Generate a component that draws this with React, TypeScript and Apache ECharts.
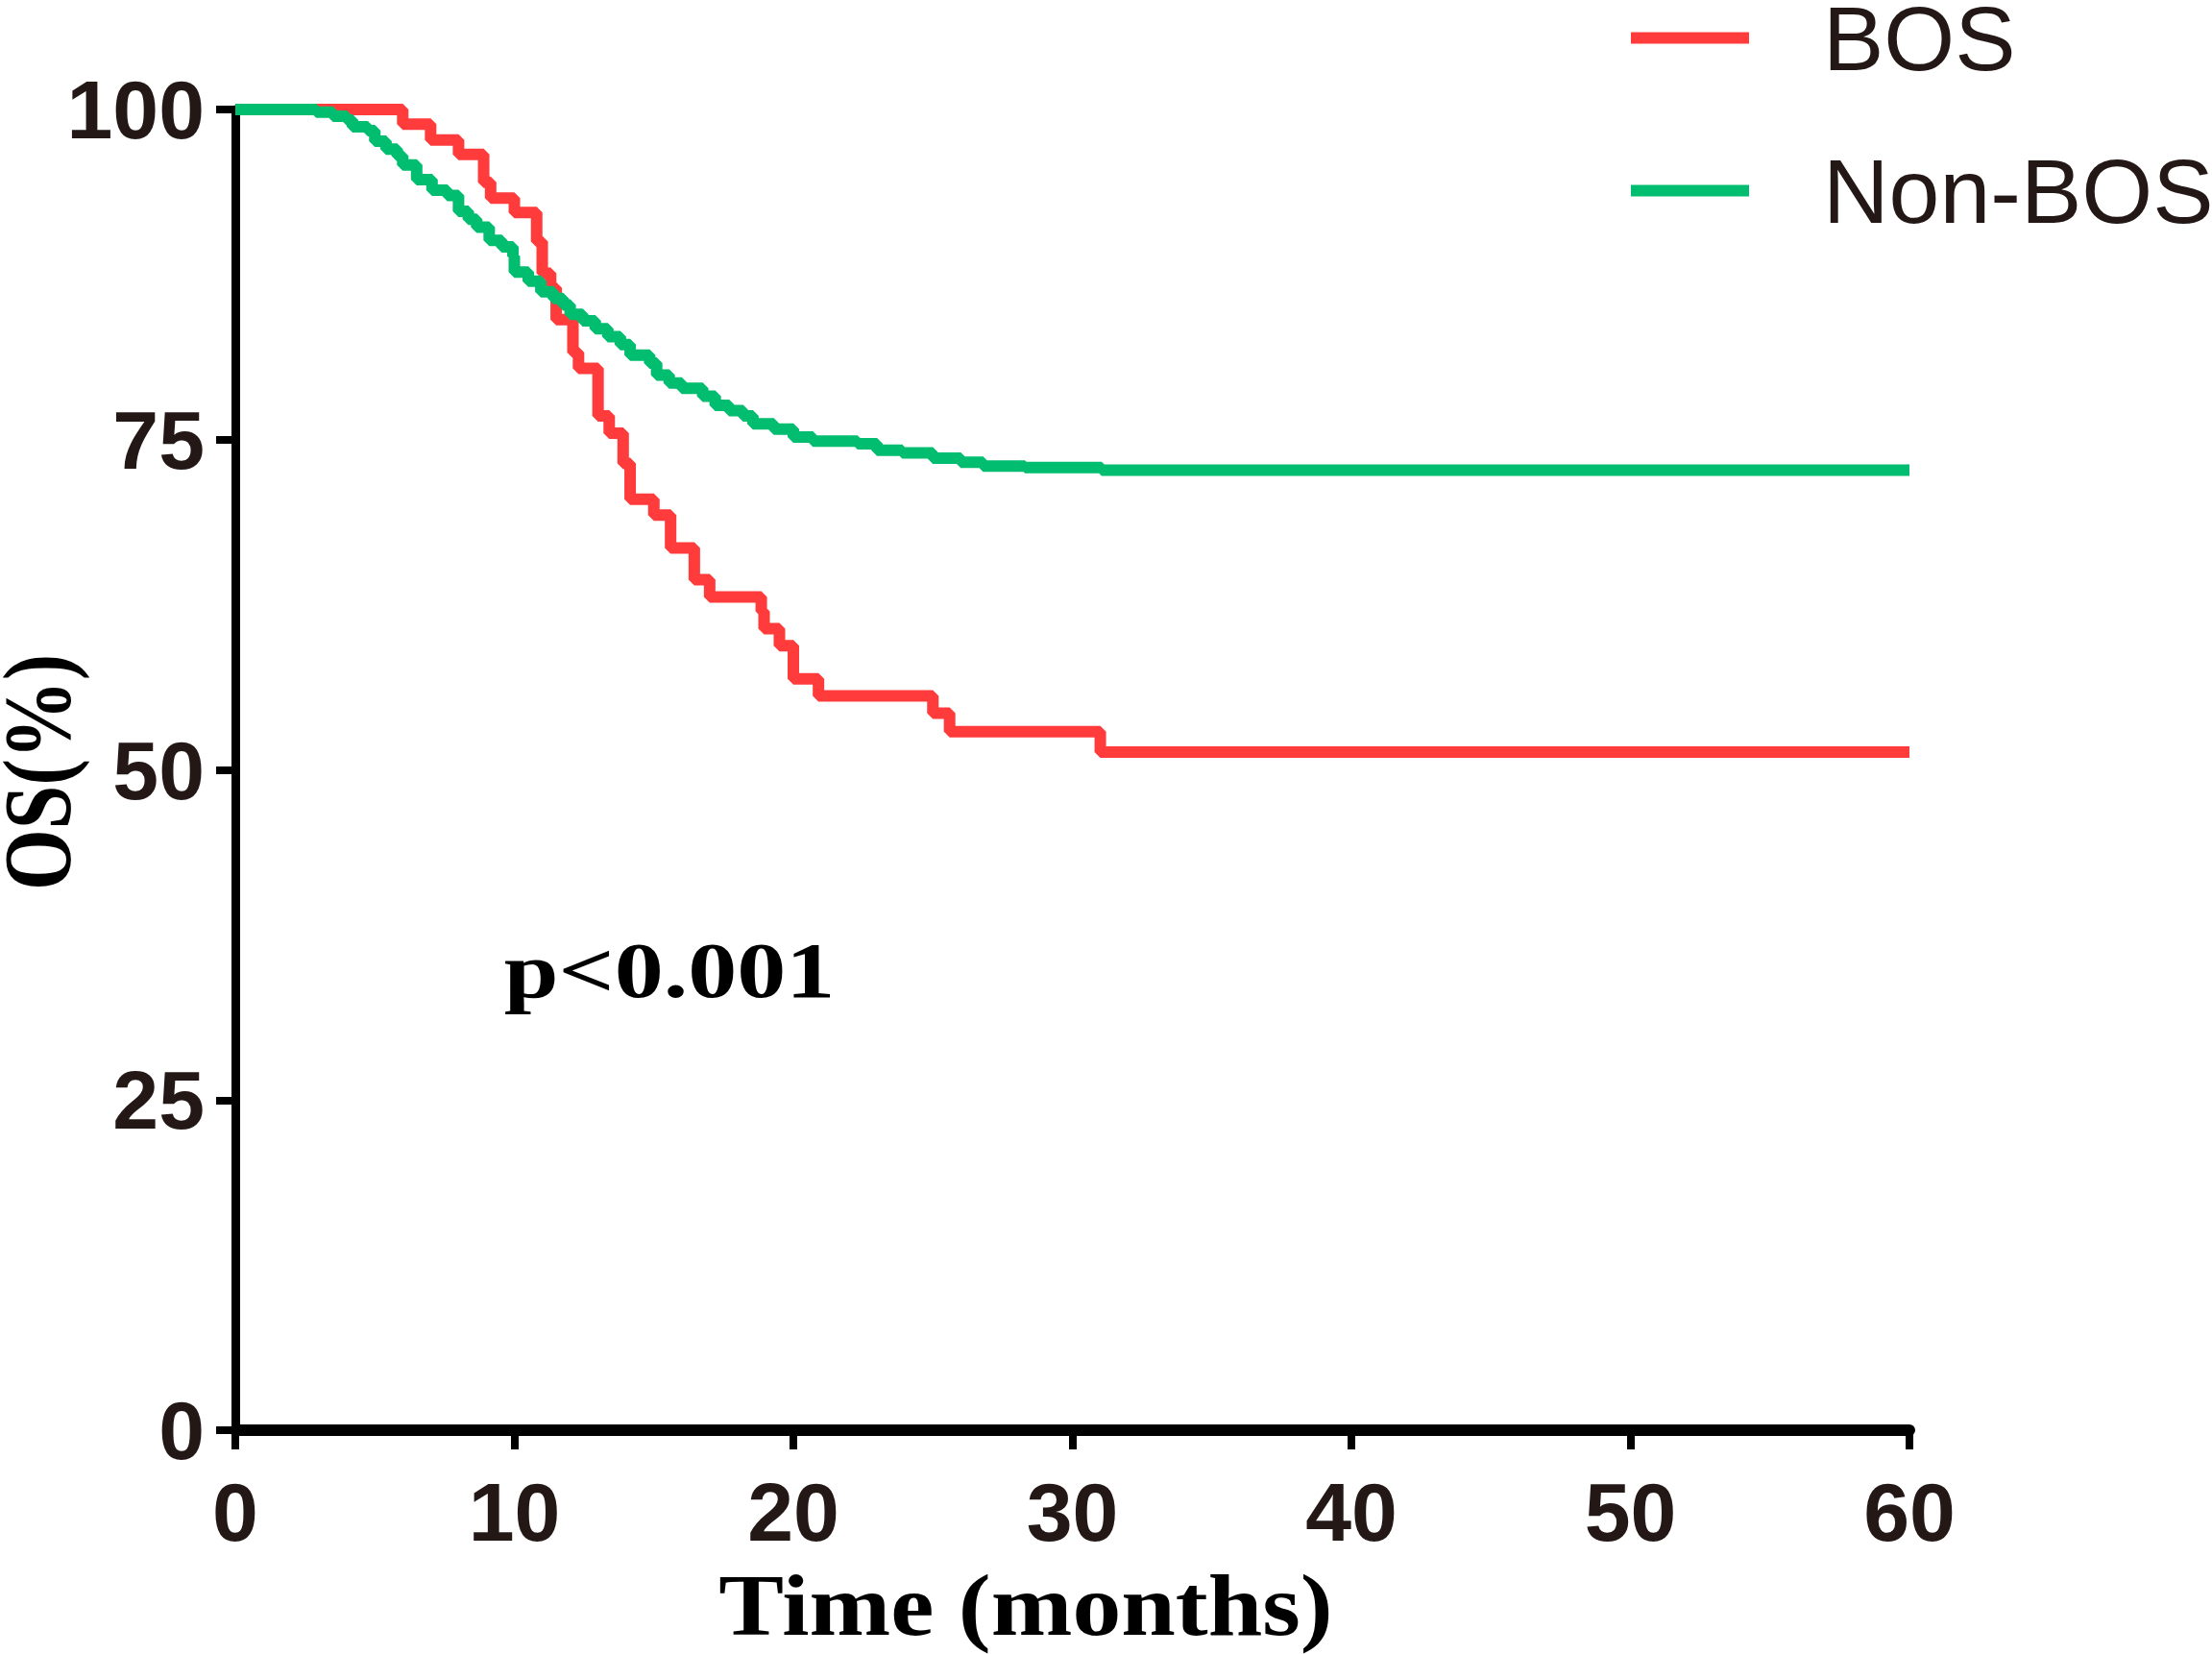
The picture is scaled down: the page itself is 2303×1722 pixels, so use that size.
import React, { useEffect, useRef } from "react";
import * as echarts from "echarts";

// Kaplan–Meier curves (time in months, OS in %)
const bosTimes = [0, 6.0, 7.0, 8.0, 8.9, 9.15, 10.0, 10.8, 11.0, 11.3, 11.5, 12.1, 12.3, 13.0, 13.4, 13.9, 14.15, 15.0, 15.6, 16.45, 17.0, 18.85, 18.95, 19.5, 20.0, 20.9, 25.0, 25.6, 31.0, 60];
const bosValues = [100, 98.9, 97.7, 96.6, 94.5, 93.3, 92.2, 90.0, 87.6, 86.5, 84.1, 81.6, 80.4, 76.8, 75.5, 73.2, 70.5, 69.3, 66.8, 64.4, 63.1, 62.0, 60.7, 59.4, 56.9, 55.6, 54.3, 52.9, 51.35, 51.35];

const nonBosTimes = [0, 2.9, 3.5, 4.0, 4.2, 4.75, 5.0, 5.4, 5.8, 6.0, 6.5, 7.05, 7.6, 8.0, 8.35, 8.65, 9.1, 9.55, 9.95, 10.0, 10.5, 10.95, 11.4, 11.75, 12.0, 12.45, 12.9, 13.35, 13.8, 14.15, 14.85, 15.1, 15.55, 16.0, 16.75, 17.2, 17.7, 18.2, 18.55, 19.3, 20.0, 20.7, 22.3, 23.0, 23.9, 25.0, 26.0, 26.8, 28.3, 31.05, 60];
const nonBosValues = [100, 99.8, 99.5, 99.2, 98.7, 98.4, 97.6, 97.0, 96.5, 95.8, 94.7, 93.9, 93.5, 92.3, 91.7, 91.1, 90.1, 89.6, 88.9, 87.7, 87.0, 86.2, 85.7, 85.2, 84.5, 84.0, 83.4, 82.8, 82.2, 81.4, 80.8, 79.9, 79.3, 78.9, 78.3, 77.6, 77.2, 76.8, 76.2, 75.8, 75.2, 74.9, 74.7, 74.2, 74.0, 73.6, 73.3, 73.0, 72.9, 72.7, 72.7];

const seriesNames = ["BOS", "Non-BOS"];
const xTickValues = [0, 10, 20, 30, 40, 50, 60];
const yTickValues = [0, 25, 50, 75, 100];
const xTitle = "Time (months)";
const yTitle = "OS(%)";
const pText = "p<0.001";

const RED = "#FF3B3B";
const GREEN = "#00BD6F";
const TICK_TEXT = "#231815";

function pairs(xs: number[], ys: number[]) {
  return xs.map((x, i) => [x, ys[i]]);
}

export default function App() {
  const ref = useRef<HTMLDivElement>(null);

  useEffect(() => {
    if (!ref.current) return;
    const chart = echarts.init(ref.current, null, { renderer: "svg" });
    const axisLabelBase = {
      fontSize: 86,
      fontWeight: "bold" as const,
      fontFamily: "Liberation Sans, Arial, sans-serif",
      color: TICK_TEXT,
    };
    chart.setOption({
      animation: false,
      backgroundColor: "#ffffff",
      grid: { left: 245, top: 114, right: 315, bottom: 233 },
      xAxis: {
        type: "value",
        min: xTickValues[0],
        max: xTickValues[xTickValues.length - 1],
        interval: 10,
        axisLine: { show: true, onZero: false, lineStyle: { color: "#000", width: 12 } },
        axisTick: { show: true, length: 20, lineStyle: { color: "#000", width: 8 } },
        axisLabel: { ...axisLabelBase, margin: 42 },
        splitLine: { show: false },
      },
      yAxis: {
        type: "value",
        min: yTickValues[0],
        max: yTickValues[yTickValues.length - 1],
        interval: 25,
        axisLine: { show: true, onZero: false, lineStyle: { color: "#000", width: 9 } },
        axisTick: { show: true, length: 20, lineStyle: { color: "#000", width: 8 } },
        axisLabel: { ...axisLabelBase, margin: 32 },
        splitLine: { show: false },
      },
      legend: {
        data: seriesNames,
        orient: "vertical",
        left: 1698,
        top: -8,
        padding: 0,
        itemGap: 64,
        itemWidth: 123,
        itemHeight: 12,
        icon: "rect",
        itemStyle: { borderWidth: 0 },
        textStyle: {
          fontSize: 95,
          fontFamily: "Liberation Sans, Arial, sans-serif",
          color: TICK_TEXT,
          padding: [0, 0, 9, 72],
        },
      },
      series: [
        {
          name: seriesNames[0],
          type: "line",
          step: "end",
          showSymbol: false,
          symbol: "none",
          data: pairs(bosTimes, bosValues),
          itemStyle: { color: RED },
          lineStyle: { color: RED, width: 12 },
          z: 2,
        },
        {
          name: seriesNames[1],
          type: "line",
          step: "end",
          showSymbol: false,
          symbol: "none",
          data: pairs(nonBosTimes, nonBosValues),
          itemStyle: { color: GREEN },
          lineStyle: { color: GREEN, width: 12 },
          z: 3,
        },
      ],
      graphic: [
        {
          type: "text",
          x: 1068,
          y: 1672,
          scaleX: 1.13,
          style: {
            text: xTitle,
            font: "bold 90px 'Liberation Serif', 'Times New Roman', serif",
            fill: "#000",
            textAlign: "center",
            textVerticalAlign: "middle",
          },
        },
        {
          type: "text",
          x: 39,
          y: 804,
          rotation: Math.PI / 2,
          scaleX: 0.82,
          style: {
            text: yTitle,
            font: "bold 100px 'Liberation Serif', 'Times New Roman', serif",
            fill: "#000",
            textAlign: "center",
            textVerticalAlign: "middle",
          },
        },
        {
          type: "text",
          x: 697,
          y: 1010,
          scaleX: 1.23,
          style: {
            text: pText,
            font: "bold 83px 'Liberation Serif', 'Times New Roman', serif",
            fill: "#000",
            textAlign: "center",
            textVerticalAlign: "middle",
          },
        },
      ],
    });
    return () => chart.dispose();
  }, []);

  return (
    <div
      ref={ref}
      style={{ position: "fixed", left: 0, top: 0, width: 2303, height: 1722, background: "#fff" }}
    />
  );
}
